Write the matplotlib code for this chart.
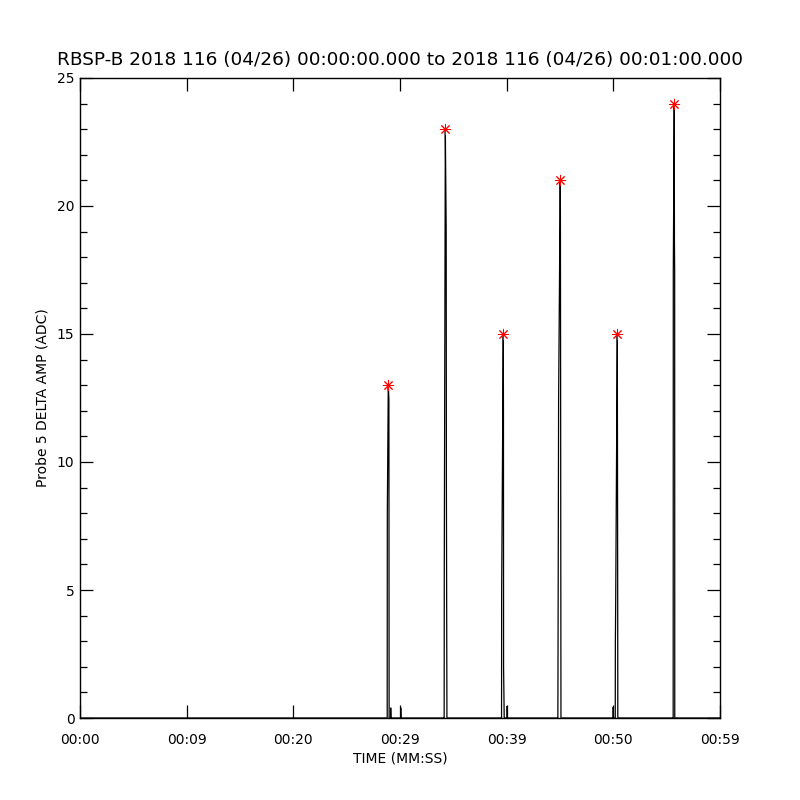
import matplotlib
matplotlib.use("Agg")
import matplotlib.pyplot as plt
from matplotlib.ticker import MultipleLocator, FixedLocator

# ---- data (seconds after 00:00:00, ADC counts) ----
trace_t = [0.0,
           28.70, 28.80, 28.81, 28.90, 28.96, 28.98, 29.12, 29.13, 29.15, 30.06, 30.07, 30.09,
           34.13, 34.14, 34.15, 34.25, 34.33, 34.35, 34.40,
           39.51, 39.52, 39.53, 39.68, 39.70, 39.71, 39.77, 40.04, 40.05, 40.07,
           44.79, 44.80, 44.81, 44.87, 45.02, 45.04, 45.06, 45.09,
           49.98, 49.99, 50.01, 50.18, 50.19, 50.22, 50.37, 50.39, 50.41, 50.42,
           55.60, 55.61, 55.62, 55.71, 55.73, 55.75, 55.76,
           59.95]
trace_v = [0.0,
           0.0, 0.0, 7.93, 13.0, 12.46, 0.0, 0.0, 0.4, 0.0, 0.0, 0.4, 0.0,
           0.0, 0.0, 5.6, 23.0, 19.06, 9.06, 0.0,
           0.0, 0.0, 4.92, 15.0, 11.9, 2.0, 0.0, 0.0, 0.47, 0.0,
           0.0, 0.0, 1.6, 12.42, 21.0, 19.54, 12.42, 0.0,
           0.0, 0.43, 0.0, 0.0, 2.93, 4.45, 15.0, 10.43, 4.45, 0.0,
           0.0, 0.0, 17.4, 24.0, 18.63, 17.4, 0.0,
           0.0]

peak_t = [28.90, 34.25, 39.68, 45.02, 50.37, 55.71]
peak_v = [13, 23, 15, 21, 15, 24]

x_tick_pos = [0, 10, 20, 30, 40, 50, 60]
x_tick_labels = ["00:00", "00:09", "00:20", "00:29", "00:39", "00:50", "00:59"]
y_major = [0, 5, 10, 15, 20, 25]

title = "RBSP-B 2018 116 (04/26) 00:00:00.000 to 2018 116 (04/26) 00:01:00.000"

plt.rcParams['font.family'] = ['DejaVu Sans']

fig = plt.figure(figsize=(8, 8), dpi=100)
ax = fig.add_axes([0.1, 0.1025, 0.8, 0.8])

ax.plot(trace_t, trace_v, color="black", lw=0.9, solid_joinstyle="miter")
ax.plot(peak_t, peak_v, linestyle="none", marker=(8, 2, 0), markersize=8,
        markeredgewidth=0.7, color="red")

ax.set_xlim(0, 60)
ax.set_ylim(0, 25)
ax.xaxis.set_major_locator(FixedLocator(x_tick_pos))
ax.set_xticklabels(x_tick_labels)
ax.yaxis.set_major_locator(FixedLocator(y_major))
ax.yaxis.set_minor_locator(MultipleLocator(1))

ax.tick_params(axis="both", which="both", direction="in", top=True, right=True,
               width=0.9, colors="black")
ax.tick_params(axis="both", which="major", length=9.5, labelsize=10)
ax.tick_params(axis="y", which="minor", length=4.7)
ax.tick_params(axis="x", which="major", pad=11)
ax.tick_params(axis="y", which="major", pad=4)

for s in ax.spines.values():
    s.set_linewidth(1.0)

ax.set_title(title, fontsize=13.3, pad=9)
ax.set_xlabel("TIME (MM:SS)", fontsize=10, labelpad=3)
ax.set_ylabel("Probe 5 DELTA AMP (ADC)", fontsize=10, labelpad=5)

fig.savefig("out.png", dpi=100)
